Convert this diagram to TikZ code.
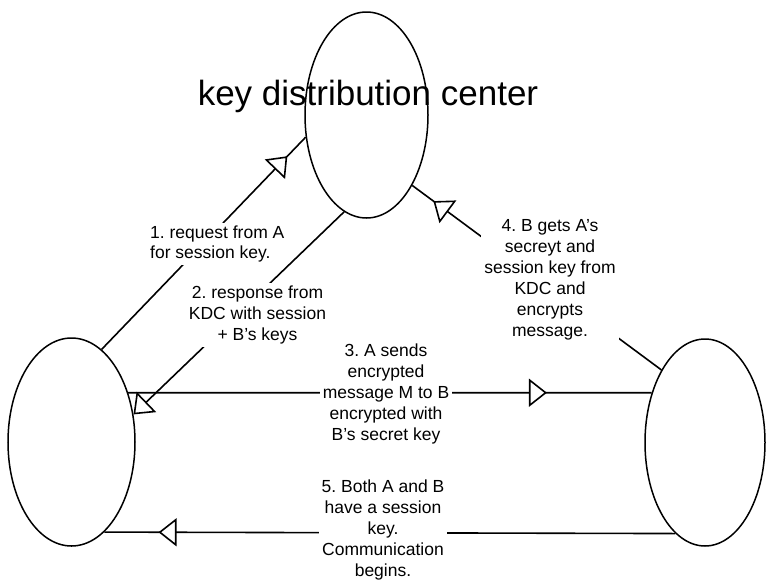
\documentclass[tikz,border=0pt]{standalone}
\usepackage{fontspec}
\setmainfont{Liberation Sans}
\usetikzlibrary{shapes.geometric,arrows.meta,decorations.markings}
\frenchspacing
\tikzset{
  tri/.tip={Triangle[fill=white,length=18pt,width=28pt]},
  party/.style={draw,ellipse,line width=1.5pt,inner sep=0pt},
  conn/.style={line width=1.6pt},
  midarrow/.style={postaction={decorate},decoration={markings,mark=at position #1 with {\arrow{tri}}}},
  lbl/.style={fill=white,inner sep=3pt,font=\fontsize{17.5}{21}\selectfont,align=center},
  titletext/.style={inner sep=0pt,font=\fontsize{35}{40}\selectfont}
}
\begin{document}
\begin{tikzpicture}[x=1pt,y=-1pt]
\useasboundingbox (0,0) rectangle (766,582);
\fill[white] (0,0) rectangle (766,582);
% parties
\node[party,minimum width=123pt,minimum height=206pt] (kdc) at (366.5,115) {};
\node[party,minimum width=127pt,minimum height=208pt] (a) at (71.5,442) {};
\node[party,minimum width=120pt,minimum height=207pt] (b) at (705,442.5) {};
% connectors
\draw[conn,midarrow=0.91] (a.72.7) -- (kdc.200);
\draw[conn,-tri] (kdc.257.5) -- (a.24);
\draw[conn,midarrow=0.80] (a.41.2) -- (b.137.2);
\draw[conn,midarrow=0.915] (b.121.6) -- (kdc.303.6);
\draw[conn,midarrow=0.905] (b.-108.4) -- (a.-70.5);
% labels
\node[lbl,anchor=west,align=left,font=\fontsize{17.5}{19.5}\selectfont] (l1) at (147,244) {1. request from A\\for session key.};
\node[lbl] (l2) at (257.5,315) {2. response from\\KDC with session\\+ B's keys};
\node[lbl] (l3) at (386,394) {3. A sends\\encrypted\\message M to B\\encrypted with\\B's secret key};
\node[lbl] (l4) at (550,280) {4. B gets A's\\secreyt and\\session key from\\KDC and\\encrypts\\message.};
\node[lbl] (l5) at (383,530) {5. Both A and B\\have a session\\key.\\Communication\\begins.};
% title
\node[titletext,anchor=base] (title) at (368,105) {key distribution center};
\end{tikzpicture}
\end{document}
